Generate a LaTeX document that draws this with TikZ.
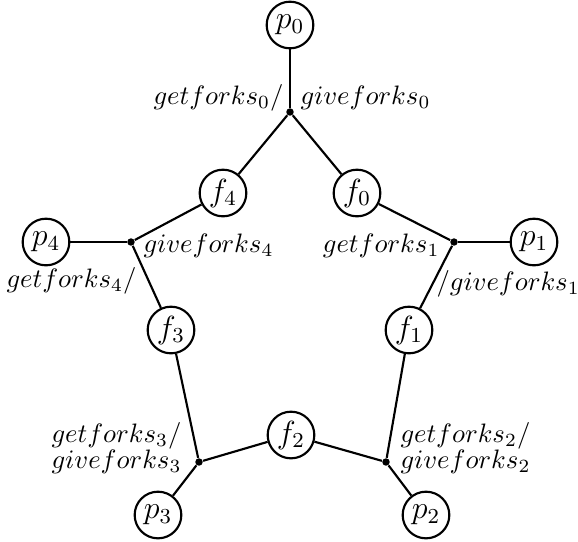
\documentclass[tikz,border=0pt]{standalone}
\usepackage{amsmath}
\usepackage{tikz}

\begin{document}
\begin{tikzpicture}[x=0.375pt,y=-0.375pt,
  proc/.style={circle,draw,line width=0.8pt,minimum size=17.5pt,inner sep=0pt,
    font=\large},
  junc/.style={circle,fill,inner sep=0pt,minimum size=2.8pt},
  lbl/.style={inner sep=0pt},
  arc/.style={line width=0.8pt}]
\useasboundingbox (0,0) rectangle (578,541);
\node[proc] (p0) at (290,25) {$p_0$};
\node[proc] (p1) at (534,242) {$p_1$};
\node[proc] (p2) at (426,515) {$p_2$};
\node[proc] (p3) at (158,515) {$p_3$};
\node[proc] (p4) at (46,242) {$p_4$};
\node[proc] (f0) at (357,193) {$f_0$};
\node[proc] (f1) at (409,330) {$f_1$};
\node[proc] (f2) at (291,435) {$f_2$};
\node[proc] (f3) at (171,330) {$f_3$};
\node[proc] (f4) at (223,193) {$f_4$};
\node[junc] (j0) at (290,112) {};
\node[junc] (j1) at (454,242) {};
\node[junc] (j2) at (386,462) {};
\node[junc] (j3) at (199,462) {};
\node[junc] (j4) at (131,242) {};
\draw[arc] (p0) -- (j0);
\draw[arc] (j0) -- (f4);
\draw[arc] (j0) -- (f0);
\draw[arc] (f0) -- (j1);
\draw[arc] (j1) -- (p1);
\draw[arc] (j1) -- (f1);
\draw[arc] (f1) -- (j2);
\draw[arc] (f2) -- (j2);
\draw[arc] (j2) -- (p2);
\draw[arc] (f2) -- (j3);
\draw[arc] (f3) -- (j3);
\draw[arc] (j3) -- (p3);
\draw[arc] (f4) -- (j4);
\draw[arc] (p4) -- (j4);
\draw[arc] (j4) -- (f3);
\node[lbl,anchor=base east] (g0) at (284,104) {$getforks_0/$};
\node[lbl,anchor=base west] (v0) at (300,104) {$giveforks_0$};
\node[lbl,anchor=base east] (g1) at (440,252) {$getforks_1$};
\node[lbl,anchor=base west] (v1) at (436,290) {$/giveforks_1$};
\node[lbl,anchor=base west] (g2) at (400,442) {$getforks_2/$};
\node[lbl,anchor=base west] (v2) at (400,468) {$giveforks_2$};
\node[lbl,anchor=base east] (g3) at (182,442) {$getforks_3/$};
\node[lbl,anchor=base west] (v3) at (g3.base west |- 0,468) {$giveforks_3$};
\node[lbl,anchor=base east] (g4) at (137,287) {$getforks_4/$};
\node[lbl,anchor=base west] (v4) at (143,252) {$giveforks_4$};
\end{tikzpicture}
\end{document}
